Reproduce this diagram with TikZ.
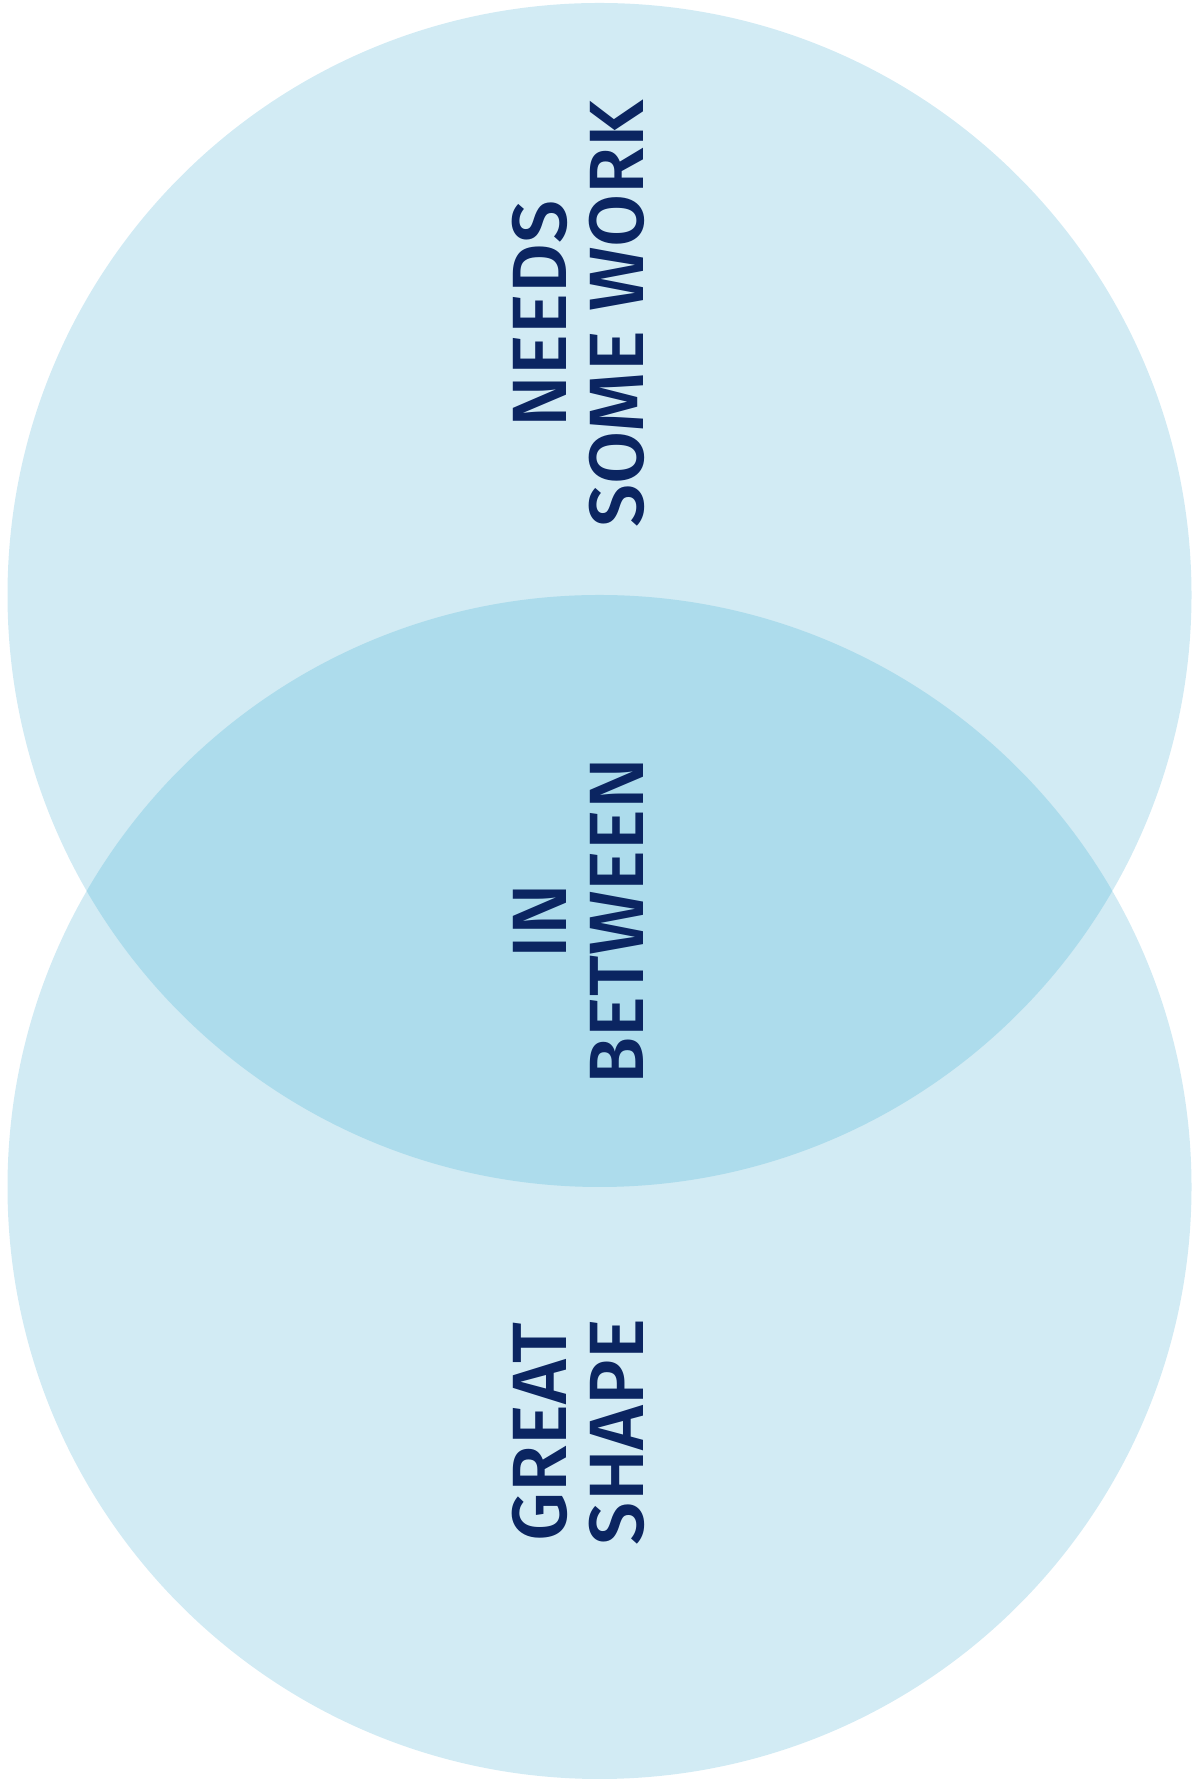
\documentclass[tikz,border=0pt]{standalone}
\usepackage{fontspec}
\setmainfont{Fira Sans Medium}
\definecolor{ringblue}{HTML}{D2EBF4}
\definecolor{overlapblue}{HTML}{ADDCEC}
\definecolor{labelnavy}{HTML}{0B2561}
\tikzset{
  zone/.style={fill=ringblue, draw=none},
  zonetext/.style={text=labelnavy, rotate=90, align=center, inner sep=0pt,
    font=\fontsize{77}{77}\selectfont}
}
\begin{document}
\begin{tikzpicture}[x=1pt,y=1pt]
    \useasboundingbox (0,0) rectangle (1199,1780);
    % Two circles
    \coordinate (topc) at (599.5,1185);
    \coordinate (botc) at (599.5,593);
    \fill[zone] (topc) circle[radius=592];
    \fill[zone] (botc) circle[radius=592];

    % Overlap
    \begin{scope}
      \clip (topc) circle[radius=592];
      \fill[overlapblue] (botc) circle[radius=592];
    \end{scope}

    % Labels
    \node[zonetext] (needs) at (578,1466) {NEEDS\\SOME WORK};
    \node[zonetext] (between) at (578,859) {IN\\BETWEEN};
    \node[zonetext] (great) at (578,348) {GREAT\\SHAPE};
\end{tikzpicture}
\end{document}
